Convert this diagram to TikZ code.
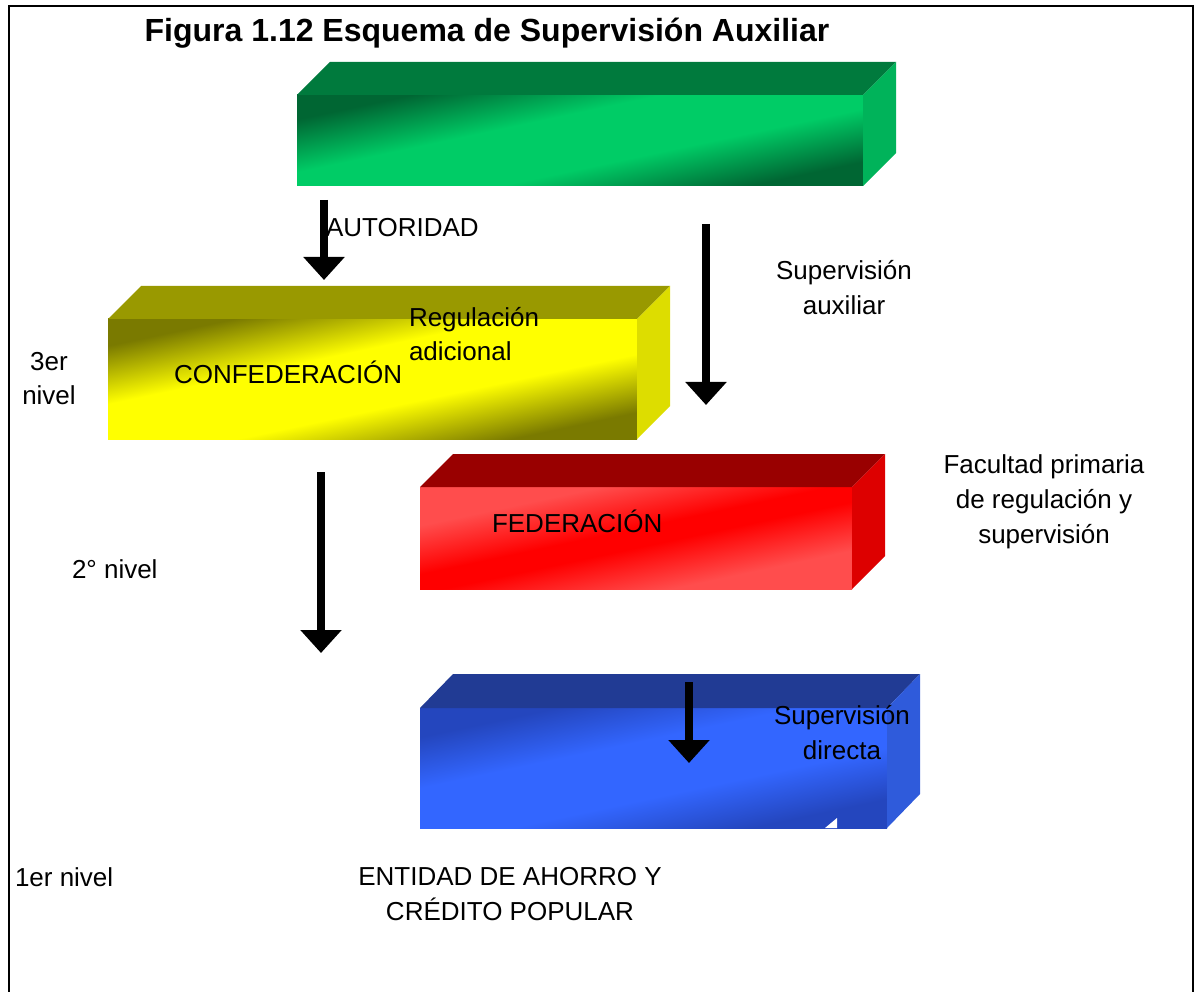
\documentclass[tikz,border=0pt]{standalone}
\usepackage{fontspec}
\setmainfont{Liberation Sans}
\usetikzlibrary{calc,positioning,arrows.meta}

\definecolor{gtop}{HTML}{007A3D}
\definecolor{gside}{HTML}{00B35A}
\definecolor{gdark}{HTML}{006633}
\definecolor{glight}{HTML}{00CC66}
\definecolor{ytop}{HTML}{999900}
\definecolor{yside}{HTML}{DDDD00}
\definecolor{ydark}{HTML}{7A7A00}
\definecolor{ylight}{HTML}{FFFF00}
\definecolor{rtop}{HTML}{990000}
\definecolor{rside}{HTML}{DD0000}
\definecolor{rlight}{HTML}{FF4D4D}
\definecolor{rmid}{HTML}{FF0000}
\definecolor{btop}{HTML}{213B94}
\definecolor{bside}{HTML}{2F5BDB}
\definecolor{bdark}{HTML}{2446BE}
\definecolor{blight}{HTML}{3366FF}

\pgfdeclareverticalshading{gshade}{100bp}{color(0bp)=(gdark); color(27bp)=(gdark); color(42bp)=(glight); color(58bp)=(glight); color(73bp)=(gdark); color(100bp)=(gdark)}
\pgfdeclareverticalshading{yshade}{100bp}{color(0bp)=(ydark); color(27bp)=(ydark); color(42bp)=(ylight); color(58bp)=(ylight); color(73bp)=(ydark); color(100bp)=(ydark)}
\pgfdeclareverticalshading{rshade}{100bp}{color(0bp)=(rlight); color(32bp)=(rlight); color(47bp)=(rmid); color(53bp)=(rmid); color(68bp)=(rlight); color(100bp)=(rlight)}
\pgfdeclareverticalshading{bshade}{100bp}{color(0bp)=(bdark); color(28bp)=(bdark); color(42bp)=(blight); color(58bp)=(blight); color(72bp)=(bdark); color(100bp)=(bdark)}

\begin{document}
\begin{tikzpicture}[
                x=1pt,y=-1pt,
                every node/.append style={inner sep=0pt,outer sep=0pt},
                front/.style={rectangle,shade,shading=#1,shading angle=12},
                lbl/.style={font=\fontsize{26}{35}\selectfont,align=center},
                bigarrow/.style={line width=8pt,-{Triangle[length=23pt,width=40pt]}}
            ]
                \useasboundingbox (0,0) rectangle (1200,992);
                \draw[line width=2pt] (9,992) -- (9,6) -- (1193,6) -- (1193,992);
                \node (T) [font=\fontsize{32}{38}\selectfont\bfseries,anchor=base] at (487,42) {Figura 1.12 Esquema de Supervisión Auxiliar};
                % boxes
                \node (G) [front=gshade,minimum width=566,minimum height=91] at (580,140.5) {};
                \fill[gtop] (G.north west) -- ++(33,-33) -- ++(566,0) -- (G.north east) -- cycle;
                \fill[gside] (G.north east) -- ++(33,-33) -- ++(0,91) -- (G.south east) -- cycle;
                \node (Y) [front=yshade,minimum width=529,minimum height=120] at (372.5,379) {};
                \fill[ytop] (Y.north west) -- ++(33,-33) -- ++(529,0) -- (Y.north east) -- cycle;
                \fill[yside] (Y.north east) -- ++(33,-33) -- ++(0,120) -- (Y.south east) -- cycle;
                \node (R) [front=rshade,minimum width=432,minimum height=102] at (636,538) {};
                \fill[rtop] (R.north west) -- ++(33,-33) -- ++(432,0) -- (R.north east) -- cycle;
                \fill[rside] (R.north east) -- ++(33,-33) -- ++(0,102) -- (R.south east) -- cycle;
                \node (B) [front=bshade,minimum width=467,minimum height=120] at (653.5,768) {};
                \fill[btop] (B.north west) -- ++(33,-34) -- ++(467,0) -- (B.north east) -- cycle;
                \fill[bside] (B.north east) -- ++(33,-34) -- ++(0,120) -- (B.south east) -- cycle;
                \fill[white] ($(B.south east)+(-62,0)$) -- ++(12,-10) -- ++(0,10) -- cycle;
                % labels
                \node (aut)  [lbl,anchor=base west] at (326,237) {AUTORIDAD};
                \node (sa)   [lbl,anchor=base] at (844,315) {Supervisión\\auxiliar};
                \node (reg)  [lbl,align=left,anchor=base west] at (409,361) {Regulación\\adicional};
                \node (n3)   [lbl,anchor=base] at (49,405) {3er\\nivel};
                \node (conf) [lbl,anchor=base west] at (174,384) {CONFEDERACIÓN};
                \node (fac)  [lbl,anchor=base] at (1044,543) {Facultad primaria\\de regulación y\\supervisión};
                \node (fed)  [lbl,anchor=base west] at (492,532) {FEDERACIÓN};
                \node (n2)   [lbl,anchor=base west] at (72,578) {2° nivel};
                \node (sd)   [lbl,anchor=base] at (842,759) {Supervisión\\directa};
                \node (n1)   [lbl,anchor=base west] at (15,886) {1er nivel};
                \node (ent)  [lbl,anchor=base] at (510,920) {ENTIDAD DE AHORRO Y\\CRÉDITO POPULAR};
                % arrows
                \coordinate (a1s) at (324,200);
                \coordinate (a1e) at (324,280);
                \coordinate (a2s) at (706,224);
                \coordinate (a2e) at (706,405);
                \coordinate (a3s) at (321,472);
                \coordinate (a3e) at (321,653);
                \coordinate (a4s) at (689,682);
                \coordinate (a4e) at (689,763);
                \draw[bigarrow] (a1s) -- (a1e);
                \draw[bigarrow] (a2s) -- (a2e);
                \draw[bigarrow] (a3s) -- (a3e);
                \draw[bigarrow] (a4s) -- (a4e);
            \end{tikzpicture}
\end{document}
